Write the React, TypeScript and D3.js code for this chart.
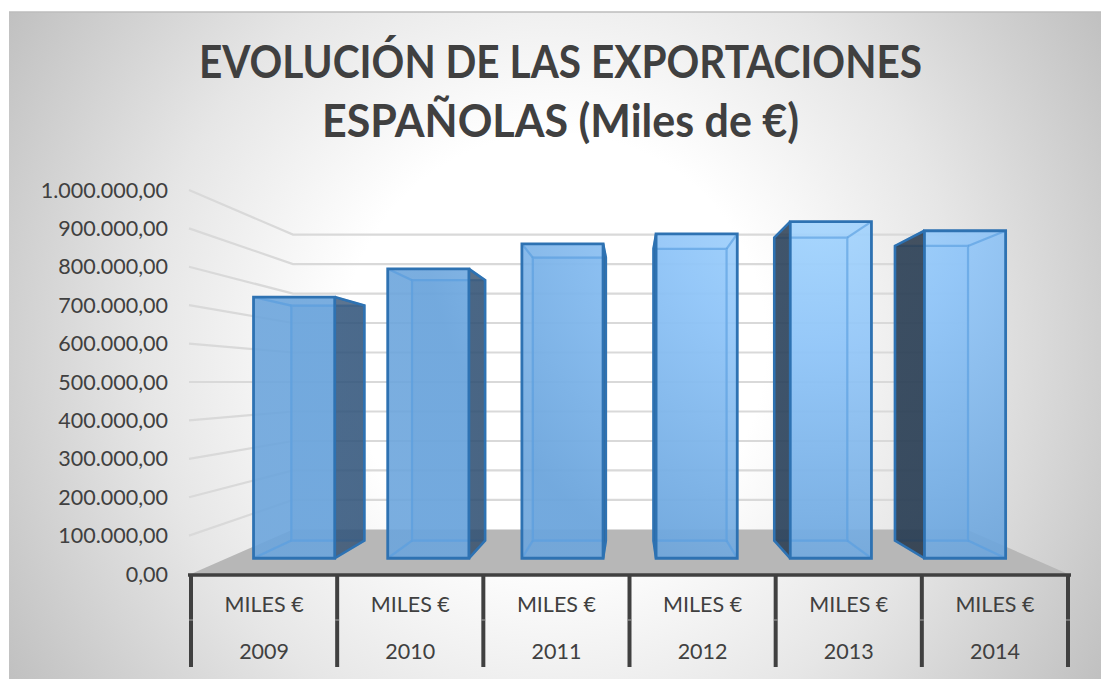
import React from "react";
import * as d3 from "d3";

const years = ["2009", "2010", "2011", "2012", "2013", "2014"];
const measure = "MILES €";
const values = [741000, 821000, 892000, 920000, 955000, 929000];
const ticks = [0, 100000, 200000, 300000, 400000, 500000, 600000, 700000, 800000, 900000, 1000000];
const title = ["EVOLUCIÓN DE LAS EXPORTACIONES", "ESPAÑOLAS (Miles de €)"];
const titleWidths = [723, 477];

const W = 1101, H = 679;
const axisL = 191, axisR = 1068, axisY = 574, axisTop = 190, tableB = 667;
const vx = 630.5, vy = 382;
const sWall = 0.768, sFront = 0.918, sBack = 0.826;

const yScale = d3.scaleLinear().domain([0, 1000000]).range([axisY, axisTop]);
const xBand = d3.scaleBand<string>().domain(years).range([axisL, axisR]).paddingInner(0.395).paddingOuter(0.1975);
const xOuter = d3.scaleBand<string>().domain(years).range([axisL, axisR]);

const P = (x: number, v: number, s: number): [number, number] => [
  vx + s * (x - vx),
  vy + s * (yScale(v) - vy),
];
const pts = (a: [number, number][]) => a.map((p) => p.join(",")).join(" ");
const fmt = (v: number) =>
  d3.format(",.2f")(v).replace(/,/g, "#").replace(/\./g, ",").replace(/#/g, ".");

const font = "Lato, 'Open Sans', sans-serif";
const gridCol = "#d9d9d9";
const edge = "#2e72b2";
const inner = "#5a9fe0";

export default function App() {
  const wallL = axisL, wallR = axisR;
  return (
    <svg width={W} height={H} style={{ position: "absolute", left: 0, top: 0 }} viewBox={`0 0 ${W} ${H}`}>
      <defs>
        <radialGradient id="bg" gradientUnits="userSpaceOnUse" cx={555} cy={345} r={660}>
          <stop offset="0" stopColor="#ffffff" />
          <stop offset="0.32" stopColor="#ffffff" />
          <stop offset="0.62" stopColor="#e6e6e6" />
          <stop offset="1" stopColor="#bdbdbd" />
        </radialGradient>
        <radialGradient id="face" gradientUnits="userSpaceOnUse" cx={820} cy={190} r={400}>
          <stop offset="0" stopColor="#a8d8ff" />
          <stop offset="0.4" stopColor="#90c5f8" />
          <stop offset="1" stopColor="#6ca5dc" />
        </radialGradient>
        <linearGradient id="side" gradientUnits="userSpaceOnUse" x1={336} y1={0} x2={900} y2={0}>
          <stop offset="0" stopColor="#2a4a6e" />
          <stop offset="1" stopColor="#1e2f42" />
        </linearGradient>
      </defs>
      <rect x={9} y={12} width={W - 9} height={H - 12} fill="url(#bg)" />
      <line x1={9} x2={W} y1={12} y2={12} stroke="#bcbcbc" strokeWidth={1.5} />

      {/* floor */}
      <polygon
        points={pts([P(wallL, 0, 1), P(wallR, 0, 1), P(wallR, 0, sWall), P(wallL, 0, sWall)])}
        fill="#b7b7b7"
      />

      {/* gridlines: side wall and back wall */}
      {ticks.filter((t) => t > 0).map((t) => (
        <polyline
          key={t}
          points={pts([P(wallL - 2, t, 1), P(wallL, t, sWall), P(wallR, t, sWall)])}
          fill="none"
          stroke={gridCol}
          strokeWidth={2.2}
        />
      ))}

      {/* value labels */}
      {ticks.map((t) => (
        <text key={t} x={168} y={yScale(t) + 7.5} textAnchor="end" fontFamily={font} fontSize={21.5} fill="#404040">
          {fmt(t)}
        </text>
      ))}

      {/* bars */}
      {years.map((y, i) => {
        const x0 = xBand(y)!;
        const x1 = x0 + xBand.bandwidth();
        const v = values[i];
        const fTL = P(x0, v, sFront), fTR = P(x1, v, sFront), fBL = P(x0, 0, sFront), fBR = P(x1, 0, sFront);
        const bTL = P(x0, v, sBack), bTR = P(x1, v, sBack), bBL = P(x0, 0, sBack), bBR = P(x1, 0, sBack);
        const rightSide = bTR[0] > fTR[0];
        const leftSide = bTL[0] < fTL[0];
        const clipId = `front-${y}`;
        const innerEdges = (
          <g fill="none" stroke={inner} strokeOpacity={0.6} strokeWidth={2.2}>
            <polygon points={pts([bTL, bTR, bBR, bBL])} />
            <line x1={fTL[0]} y1={fTL[1]} x2={bTL[0]} y2={bTL[1]} />
            <line x1={fTR[0]} y1={fTR[1]} x2={bTR[0]} y2={bTR[1]} />
            <line x1={fBL[0]} y1={fBL[1]} x2={bBL[0]} y2={bBL[1]} />
            <line x1={fBR[0]} y1={fBR[1]} x2={bBR[0]} y2={bBR[1]} />
          </g>
        );
        return (
          <g key={y}>
            <clipPath id={clipId}>
              <polygon points={pts([fTL, fTR, fBR, fBL])} />
            </clipPath>
            <polygon points={pts([bTL, bTR, bBR, bBL])} fill="url(#face)" fillOpacity={0.5} />
            {innerEdges}
            {rightSide && (
              <polygon points={pts([fTR, bTR, bBR, fBR])} fill="url(#side)" fillOpacity={0.76} />
            )}
            {leftSide && (
              <polygon points={pts([fTL, bTL, bBL, fBL])} fill="url(#side)" fillOpacity={0.82} />
            )}
            <polygon points={pts([fTL, fTR, fBR, fBL])} fill="url(#face)" fillOpacity={0.9} />
            <g clipPath={`url(#${clipId})`}>{innerEdges}</g>
            {rightSide && (
              <polyline points={pts([fTR, bTR, bBR, fBR])} fill="none" stroke={edge} strokeWidth={2.6} />
            )}
            {leftSide && (
              <polyline points={pts([fTL, bTL, bBL, fBL])} fill="none" stroke={edge} strokeWidth={2.6} />
            )}
            <polygon points={pts([fTL, fTR, fBR, fBL])} fill="none" stroke={edge} strokeWidth={2.8} />
          </g>
        );
      })}

      {/* category table */}
      <line x1={axisL - 3} x2={axisR + 3} y1={axisY + 1} y2={axisY + 1} stroke="#404040" strokeWidth={3.6} />
      {d3.range(0, years.length + 1).map((k) => {
        const x = k < years.length ? xOuter(years[k])! : axisR;
        return (
          <g key={k}>
            <line x1={x} x2={x} y1={axisY} y2={tableB} stroke="#404040" strokeWidth={4} />
            <line x1={x - 2} x2={x + 2} y1={620} y2={620} stroke="#a6a6a6" strokeWidth={1} />
          </g>
        );
      })}
      {years.map((y) => {
        const cx = xOuter(y)! + xOuter.bandwidth() / 2;
        return (
          <g key={y} fontFamily={font} fontSize={21.5} fill="#404040" textAnchor="middle">
            <text x={cx} y={612}>{measure}</text>
            <text x={cx} y={659}>{y}</text>
          </g>
        );
      })}

      {/* title */}
      {title.map((t, i) => (
        <text
          key={t}
          x={560.5}
          y={78 + i * 59}
          textAnchor="middle"
          fontFamily={font}
          fontSize={45}
          fontWeight={700}
          fill="#404040"
          textLength={titleWidths[i]}
          lengthAdjust="spacingAndGlyphs"
        >
          {t}
        </text>
      ))}
    </svg>
  );
}
